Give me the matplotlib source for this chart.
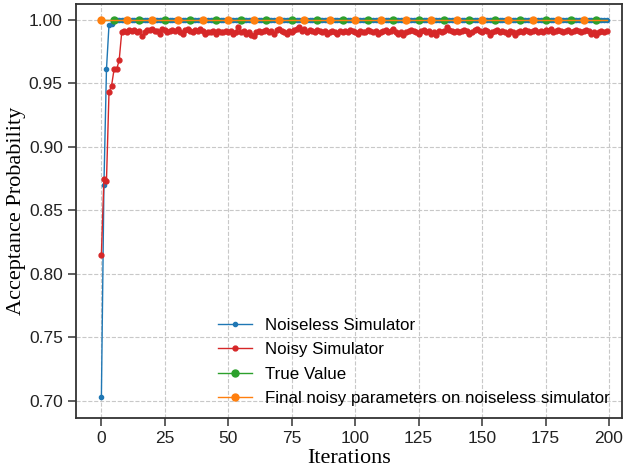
import numpy as np
import matplotlib
matplotlib.use("Agg")
import matplotlib.pyplot as plt

# acceptance probability per iteration
noiseless = [0.703, 0.870, 0.961, 0.996, 0.997, 0.999] + [1.0] * 194

noisy = [
    0.815, 0.875, 0.873, 0.943, 0.948, 0.961, 0.961, 0.968, 0.990, 0.991,
    0.990, 0.992, 0.991, 0.992, 0.990, 0.991, 0.987, 0.990, 0.992, 0.992,
    0.993, 0.991, 0.991, 0.989, 0.993, 0.992, 0.990, 0.991, 0.992, 0.991,
    0.993, 0.990, 0.989, 0.992, 0.993, 0.991, 0.990, 0.992, 0.991, 0.993,
    0.991, 0.989, 0.990, 0.990, 0.991, 0.989, 0.991, 0.990, 0.990, 0.991,
    0.990, 0.991, 0.989, 0.990, 0.994, 0.990, 0.991, 0.989, 0.990, 0.988,
    0.987, 0.990, 0.991, 0.990, 0.991, 0.992, 0.990, 0.991, 0.989, 0.992,
    0.993, 0.991, 0.990, 0.989, 0.991, 0.990, 0.992, 0.993, 0.994, 0.991,
    0.993, 0.990, 0.992, 0.991, 0.990, 0.992, 0.991, 0.990, 0.991, 0.989,
    0.990, 0.991, 0.990, 0.989, 0.991, 0.990, 0.991, 0.990, 0.992, 0.991,
    0.990, 0.989, 0.991, 0.990, 0.990, 0.992, 0.991, 0.990, 0.991, 0.989,
    0.990, 0.991, 0.992, 0.990, 0.991, 0.993, 0.990, 0.989, 0.990, 0.988,
    0.990, 0.991, 0.992, 0.991, 0.990, 0.989, 0.991, 0.992, 0.990, 0.991,
    0.989, 0.990, 0.988, 0.991, 0.990, 0.991, 0.994, 0.992, 0.991, 0.990,
    0.991, 0.990, 0.991, 0.992, 0.991, 0.989, 0.990, 0.992, 0.993, 0.991,
    0.990, 0.992, 0.991, 0.988, 0.990, 0.991, 0.992, 0.990, 0.991, 0.990,
    0.989, 0.991, 0.990, 0.988, 0.990, 0.991, 0.990, 0.992, 0.991, 0.990,
    0.991, 0.992, 0.990, 0.991, 0.990, 0.992, 0.991, 0.993, 0.990, 0.991,
    0.992, 0.991, 0.990, 0.991, 0.992, 0.990, 0.991, 0.992, 0.991, 0.990,
    0.991, 0.992, 0.991, 0.989, 0.990, 0.988, 0.990, 0.991, 0.990, 0.991,
]

true_value = [1.0] * 200
final_noisy_params = [1.0] * 200

iterations = np.arange(len(noisy))

plt.rcParams['font.family'] = 'Liberation Sans'

fig = plt.figure(figsize=(6.23, 4.70), dpi=100)
ax = fig.add_axes([0.122, 0.111, 0.876, 0.881])

ax.plot(iterations, noiseless, color='#1f77b4', marker='o', markersize=3,
        linewidth=1, label='Noiseless Simulator')
ax.plot(iterations, noisy, color='#d62728', marker='o', markersize=3.5,
        linewidth=1, label='Noisy Simulator')
ax.plot(iterations, true_value, color='#2ca02c', marker='o', markersize=5,
        markevery=(5, 10), linewidth=1, label='True Value')
ax.plot(iterations, final_noisy_params, color='#ff7f0e', marker='o', markersize=5,
        markevery=10, linewidth=1, label='Final noisy parameters on noiseless simulator')

ax.set_xlim(-10, 205)
ax.set_ylim(0.6866, 1.0126)
ax.set_xticks(np.arange(0, 201, 25))
ax.set_yticks([0.70, 0.75, 0.80, 0.85, 0.90, 0.95, 1.00])
ax.yaxis.set_major_formatter(matplotlib.ticker.FormatStrFormatter('%.2f'))

ax.grid(True, linestyle='--', color='#c8c8c8', linewidth=0.8)
ax.set_axisbelow(True)
for s in ax.spines.values():
    s.set_color('#333333')
    s.set_linewidth(1.3)
ax.tick_params(direction='out', length=6, width=1.1, color='#333333',
               labelsize=12.5, labelcolor='#222222')

ax.set_xlabel('Iterations', family='Liberation Serif', fontsize=16, labelpad=2)
ax.set_ylabel('Acceptance Probability', family='Liberation Serif', fontsize=16, labelpad=2)

ax.legend(loc='lower right', frameon=False, fontsize=12.2, labelspacing=0.55,
          borderaxespad=0.3)

fig.savefig('out.png', dpi=100)
